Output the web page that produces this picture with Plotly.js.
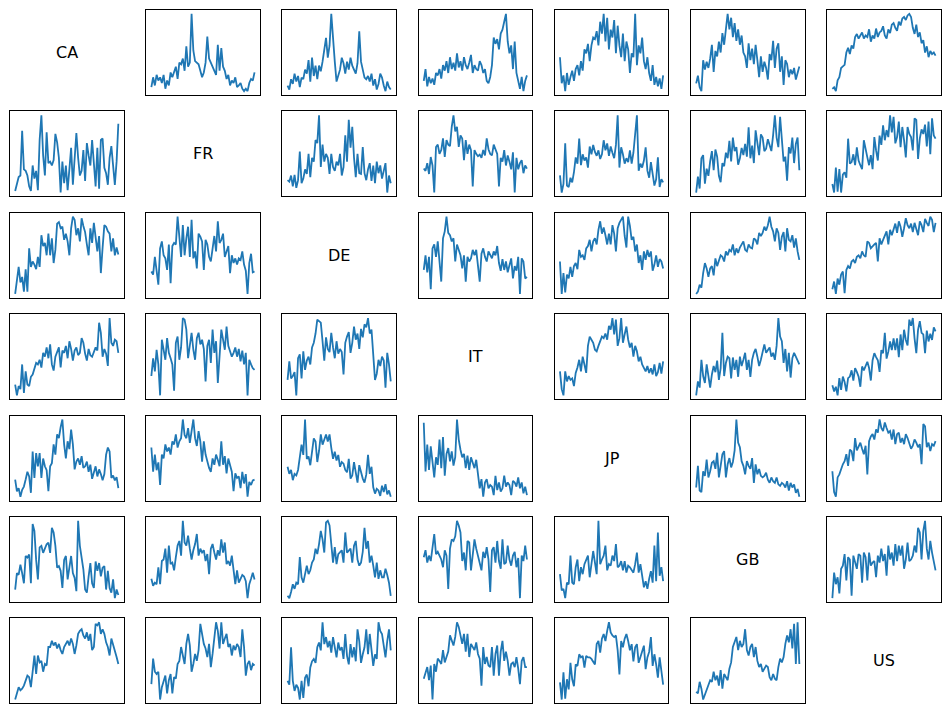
<!DOCTYPE html>
<html>
<head>
<meta charset="utf-8">
<script src="https://cdn.plot.ly/plotly-3.0.1.min.js"></script>
<style>html,body{margin:0;padding:0;background:#fff;}#chart{width:950px;height:713px;}</style>
</head>
<body>
<div id="chart"></div>
<script>
const countries = ['CA','FR','DE','IT','JP','GB','US'];

// row 1: CA
const CA_FR = [10,22,12,25,18,22,15,25,8,18,12,28,22,30,35,20,40,38,45,30,60,35,40,100,55,42,40,38,30,22,28,40,72,45,40,35,30,25,62,30,58,35,30,20,25,12,18,15,22,10,12,15,8,5,8,5,15,20,18,28];
const CA_DE = [10,5,18,12,25,15,22,8,20,18,30,25,42,15,45,22,35,18,35,28,40,55,70,45,60,100,65,40,15,22,30,45,38,25,40,30,45,35,30,25,38,78,40,30,20,18,22,15,25,10,18,5,12,25,20,10,3,15,8,5];
const CA_IT = [15,30,8,20,12,18,10,25,22,30,18,35,28,40,25,45,30,38,28,50,32,40,28,45,35,30,38,48,25,35,30,28,40,35,25,30,15,12,20,35,70,62,68,55,75,80,90,100,65,50,60,30,65,25,15,5,20,2,15,22];
const CA_JP = [45,12,22,2,25,10,20,28,15,30,35,22,40,28,55,50,62,40,60,70,68,78,60,90,75,100,65,95,55,80,70,92,50,85,60,45,75,40,65,55,25,50,45,100,35,60,50,70,40,30,45,25,15,35,10,20,8,18,5,22];
const CA_GB = [10,20,5,0,40,28,38,30,42,60,25,52,45,64,50,75,60,85,100,80,95,70,88,65,80,60,72,50,45,30,62,40,55,35,60,40,18,45,25,38,30,15,48,40,65,30,55,62,25,45,8,40,35,18,28,22,30,15,25,32];
const CA_US = [3,5,0,14,18,30,32,34,50,56,48,59,55,70,74,68,72,76,68,72,70,80,64,72,68,81,70,76,78,84,72,68,80,75,86,88,82,78,90,85,94,96,92,98,100,96,82,74,86,70,76,62,66,50,58,44,52,48,50,46];

// row 2: FR
const FR_CA = [2,12,20,22,80,30,28,22,8,2,35,18,28,3,68,100,48,22,78,38,40,35,42,76,65,45,0,40,12,35,3,30,58,10,40,77,45,22,28,55,15,64,48,35,68,38,8,58,5,68,70,32,25,10,45,60,30,10,40,89];
const FR_DE = [16,14,22,8,23,6,16,53,12,18,30,24,50,20,45,40,68,64,100,33,62,40,50,45,24,50,33,28,40,35,50,22,33,74,40,94,58,85,45,20,50,25,24,59,25,16,30,38,15,35,12,40,25,35,18,30,38,0,22,12];
const FR_IT = [31,28,38,24,46,35,0,59,62,50,55,70,46,68,62,60,85,100,79,85,59,74,70,42,68,50,62,55,8,55,50,47,49,45,55,48,70,56,50,48,62,55,50,8,45,40,55,35,48,40,30,52,0,45,30,38,42,25,35,31];
const FR_JP = [23,1,12,64,10,8,20,14,27,46,38,70,36,50,42,46,33,60,50,62,53,48,55,44,50,68,55,64,48,60,52,45,62,100,33,59,50,38,45,40,55,38,52,79,100,29,38,33,42,59,29,20,40,25,10,18,46,8,18,14];
const FR_GB = [3,23,8,46,50,14,33,24,42,55,31,57,48,24,16,40,36,53,46,68,42,72,55,60,38,46,59,50,64,48,85,46,62,40,81,68,50,76,72,55,58,70,62,55,75,100,72,60,98,64,42,48,18,60,52,72,40,64,72,31];
const FR_US = [12,1,33,2,31,1,24,27,20,70,38,40,50,36,59,42,36,31,68,55,46,36,49,31,72,55,42,74,62,87,68,81,72,100,78,98,64,72,92,59,85,68,46,85,76,72,55,96,94,44,70,82,76,88,60,92,50,96,74,70];

// row 3: DE
const DE_CA = [0,20,35,15,22,3,32,3,59,35,42,38,32,48,35,76,62,66,50,78,50,72,40,57,91,93,85,87,70,78,68,50,85,100,96,76,85,68,98,88,80,64,50,85,66,92,70,55,75,27,60,89,87,81,78,55,72,50,60,51];
const DE_FR = [29,25,48,31,12,59,68,50,46,31,64,14,62,66,64,100,76,48,89,50,72,87,48,96,46,55,33,78,74,68,31,70,64,48,42,60,75,55,94,66,70,78,48,55,62,27,50,40,46,38,46,44,55,38,30,0,40,52,28,29];
const DE_IT = [31,50,28,48,6,59,64,48,68,46,16,72,81,100,79,76,68,72,42,64,55,50,33,50,16,48,42,46,57,50,57,40,16,52,59,48,42,55,50,46,55,50,62,40,30,45,31,42,28,38,46,20,36,30,48,0,46,42,20,22];
const DE_JP = [42,0,27,2,25,20,35,22,36,40,32,57,48,50,44,59,62,70,55,68,72,64,83,94,78,86,76,64,78,64,89,78,55,85,92,96,100,75,60,100,88,70,74,55,64,40,50,31,55,44,57,48,55,30,38,50,35,45,42,33];
const DE_GB = [0,3,12,8,27,40,33,22,33,36,24,46,36,42,50,48,42,55,50,57,55,64,50,59,53,60,64,68,57,55,64,60,59,72,70,64,79,75,79,87,82,89,100,87,81,68,85,79,57,74,80,55,85,70,68,76,60,72,55,44];
const DE_US = [6,16,0,20,12,25,29,1,31,36,33,42,44,40,48,50,46,55,50,48,68,66,59,62,64,66,42,72,64,70,76,81,64,83,76,85,91,79,94,87,74,85,98,89,85,91,80,92,85,76,94,89,80,97,92,88,100,96,80,92];

// row 4: IT
const IT_CA = [14,0,12,8,40,3,31,14,12,24,27,36,42,40,46,36,55,50,62,48,66,40,32,50,57,62,36,58,55,64,48,70,60,45,58,62,52,55,74,68,54,45,60,52,50,56,62,58,94,81,50,60,54,38,100,68,64,72,70,55];
const IT_FR = [25,48,31,59,40,0,72,59,46,74,55,48,40,6,68,76,46,62,100,98,85,48,64,81,59,46,74,81,66,72,60,18,64,72,42,85,55,70,16,57,85,72,59,89,64,57,50,55,62,50,60,44,58,40,55,0,46,40,35,33];
const IT_DE = [20,44,22,25,30,0,48,53,22,57,33,45,50,40,62,68,80,98,96,94,70,45,75,60,56,81,62,48,70,54,60,56,27,68,76,82,55,68,89,72,80,60,86,75,92,88,100,80,85,58,20,28,46,38,50,45,10,55,40,18];
const IT_JP = [31,8,0,31,18,25,20,22,12,29,36,46,31,50,40,29,64,76,72,68,59,57,64,70,76,74,80,72,90,85,100,79,98,64,74,100,68,79,89,72,62,68,50,64,57,44,50,40,35,31,38,29,35,27,40,25,30,42,28,44];
const IT_GB = [0,18,10,46,25,16,40,22,10,27,38,30,45,20,35,81,25,42,50,48,22,49,33,46,24,50,38,46,55,33,46,24,46,55,60,50,38,46,58,66,55,59,62,50,55,46,64,100,76,70,42,60,31,55,23,48,55,50,45,40];
const IT_US = [14,6,12,1,23,8,25,18,6,23,25,33,20,36,31,25,12,38,33,40,44,36,20,46,55,50,46,31,59,55,81,48,57,70,59,74,59,74,50,79,59,85,72,65,98,90,100,74,55,85,96,81,79,55,84,70,80,72,88,83];

// row 5: JP
const JP_CA = [23,8,12,1,10,14,23,33,27,6,59,25,57,40,57,25,50,40,35,8,40,44,68,55,81,76,90,100,68,50,72,62,87,68,36,46,50,42,53,38,40,46,33,42,24,33,40,27,36,30,22,30,55,64,59,25,28,22,26,12];
const JP_FR = [64,33,55,35,45,16,55,50,68,59,64,55,72,68,81,64,72,76,100,80,76,89,70,85,100,76,66,85,72,46,72,55,46,38,33,50,42,55,48,40,72,42,53,31,50,40,33,8,31,25,27,12,33,18,30,1,20,16,22,23];
const JP_DE = [40,31,36,23,31,29,36,55,68,55,100,50,53,42,62,76,72,46,60,81,68,76,81,72,81,64,50,59,48,55,40,46,44,36,33,50,25,29,46,33,20,42,33,25,20,30,55,31,40,14,6,12,10,3,16,8,18,5,10,2];
const JP_IT = [96,38,70,40,68,50,31,55,46,76,42,79,33,59,66,50,62,45,55,100,76,64,55,59,42,57,40,55,48,42,52,31,18,29,8,25,29,18,22,20,10,33,16,25,14,18,33,20,25,22,10,27,25,20,31,18,25,12,20,10];
const JP_GB = [12,40,8,6,33,27,48,25,33,44,46,36,57,25,40,55,59,25,42,50,38,45,60,100,70,64,46,40,29,46,40,36,50,18,42,29,36,27,25,27,31,22,18,25,20,18,25,16,14,18,16,12,20,8,18,12,16,5,10,0];
const JP_US = [33,6,0,25,29,36,42,46,55,40,61,59,46,76,60,65,70,62,55,66,29,72,78,81,74,87,83,100,89,85,96,89,83,85,74,87,68,81,83,70,76,68,81,76,68,62,66,74,70,64,68,42,94,91,64,70,59,68,66,72];

// row 6: GB
const GB_CA = [12,33,31,44,33,20,55,53,57,20,96,87,50,25,66,68,59,64,70,72,59,91,85,68,40,42,36,14,50,55,25,40,55,33,27,10,100,68,50,38,12,8,29,46,20,14,48,36,46,29,40,42,12,36,14,8,25,1,12,5];
const GB_FR = [25,16,20,18,40,18,48,50,64,33,68,44,46,36,53,68,74,55,100,72,68,81,64,50,62,70,83,55,64,59,62,48,57,31,64,70,59,50,62,55,76,59,72,44,48,42,55,33,18,36,20,25,30,28,22,0,18,25,33,24];
const GB_DE = [3,0,8,18,12,20,18,53,27,20,31,42,31,36,46,50,64,57,70,87,76,59,98,100,94,64,46,66,44,57,59,62,46,85,59,62,64,46,68,74,50,42,46,60,91,64,74,46,55,42,27,46,25,36,27,27,38,30,20,3];
const GB_IT = [53,62,46,55,48,70,83,57,60,55,50,40,62,55,12,64,76,74,80,100,94,85,48,59,36,74,72,36,59,76,64,55,48,36,60,52,66,50,8,62,66,46,74,48,38,76,44,46,68,50,42,55,60,40,52,0,55,48,68,50];
const GB_JP = [31,10,12,0,20,18,55,20,18,40,50,22,40,31,44,50,55,27,46,61,46,31,100,44,50,55,68,36,44,42,55,48,70,40,42,48,36,48,33,42,40,36,33,44,59,33,44,29,14,22,12,25,35,20,68,22,85,29,40,22];
const GB_US = [0,33,18,27,6,38,42,57,23,53,50,3,55,48,38,57,55,20,59,53,23,59,42,46,48,27,55,46,64,48,57,29,68,50,59,42,70,48,68,55,68,38,50,72,48,50,55,68,59,91,85,50,87,100,64,50,74,59,48,36];

// row 7: US
const US_CA = [0,8,16,12,14,18,25,31,29,16,36,57,33,57,48,50,36,46,44,68,68,76,70,74,66,72,64,59,68,72,76,70,79,72,59,70,85,89,91,83,79,87,76,85,64,68,98,96,100,85,91,85,74,68,57,79,72,64,55,46];
const US_FR = [20,53,36,33,36,0,16,25,31,8,25,33,8,29,27,46,50,68,55,46,72,85,70,36,46,59,50,64,98,85,72,66,55,72,42,59,76,100,89,66,100,72,79,85,68,72,57,70,64,72,68,55,91,68,31,46,50,38,46,44];
const US_DE = [25,20,68,25,12,20,16,1,25,3,29,33,18,42,50,53,48,68,74,64,100,72,81,68,76,61,81,70,55,74,64,68,53,85,57,46,72,55,68,50,91,76,48,59,68,91,59,85,68,44,59,53,100,89,85,72,55,76,91,64];
const US_IT = [27,36,42,25,44,0,46,36,53,50,46,64,48,55,62,83,76,70,81,100,94,83,72,85,62,85,55,72,68,64,74,59,53,18,68,46,55,44,42,68,31,59,70,31,62,76,50,62,50,31,46,48,42,55,40,20,50,55,42,42];
const US_JP = [23,1,36,2,27,14,48,27,18,46,44,59,55,57,42,57,55,55,53,50,46,72,76,61,79,85,76,89,100,87,83,81,83,64,33,76,68,79,85,76,64,72,50,68,72,48,55,64,70,40,55,62,81,44,59,46,29,55,40,20];
const US_GB = [10,8,23,14,0,6,14,18,25,23,36,25,31,18,38,14,33,29,25,40,48,68,74,81,64,76,68,72,91,64,57,68,72,55,68,50,42,46,36,40,44,42,29,25,33,27,25,42,53,48,55,72,83,74,91,66,98,46,100,46];

const pairs = {
  CA:{FR:CA_FR,DE:CA_DE,IT:CA_IT,JP:CA_JP,GB:CA_GB,US:CA_US},
  FR:{CA:FR_CA,DE:FR_DE,IT:FR_IT,JP:FR_JP,GB:FR_GB,US:FR_US},
  DE:{CA:DE_CA,FR:DE_FR,IT:DE_IT,JP:DE_JP,GB:DE_GB,US:DE_US},
  IT:{CA:IT_CA,FR:IT_FR,DE:IT_DE,JP:IT_JP,GB:IT_GB,US:IT_US},
  JP:{CA:JP_CA,FR:JP_FR,DE:JP_DE,IT:JP_IT,GB:JP_GB,US:JP_US},
  GB:{CA:GB_CA,FR:GB_FR,DE:GB_DE,IT:GB_IT,JP:GB_JP,US:GB_US},
  US:{CA:US_CA,FR:US_FR,DE:US_DE,IT:US_IT,JP:US_JP,GB:US_GB}
};

const W = 950, H = 713;
const colLeft = [10,146.2,282.4,418.6,554.8,691,827.2];
const cellW = 113.5;
const rowTop = [10,111.4,212.8,314.2,415.6,517,618.4];
const cellH = 85;

const traces = [];
const layout = {
  width: W, height: H,
  margin: {l:0,r:0,t:0,b:0},
  paper_bgcolor: '#fff', plot_bgcolor: '#fff',
  showlegend: false,
  font: {family: 'DejaVu Sans', color: '#000'},
  annotations: []
};

let axIdx = 0;
countries.forEach((rc, i) => {
  countries.forEach((cc, j) => {
    const xd = [colLeft[j]/W, (colLeft[j]+cellW)/W];
    const yd = [1-(rowTop[i]+cellH)/H, 1-rowTop[i]/H];
    if (i === j) {
      layout.annotations.push({
        text: rc, xref: 'paper', yref: 'paper',
        x: (xd[0]+xd[1])/2, y: (yd[0]+yd[1])/2,
        xanchor: 'center', yanchor: 'middle', showarrow: false,
        font: {size: 16, family: 'DejaVu Sans', color: '#000'}
      });
      return;
    }
    axIdx++;
    const s = axIdx === 1 ? '' : String(axIdx);
    const ys = pairs[rc][cc];
    const n = ys.length;
    const xs = ys.map((_, k) => k);
    const mn = Math.min(...ys), mx = Math.max(...ys);
    const pad = (mx - mn) * 0.05;
    traces.push({
      x: xs, y: ys, type: 'scatter', mode: 'lines',
      line: {color: '#1f77b4', width: 1.8},
      xaxis: 'x' + s, yaxis: 'y' + s, hoverinfo: 'skip'
    });
    const common = {showgrid:false, zeroline:false, showticklabels:false, ticks:'',
      showline:true, mirror:true, linecolor:'#000', linewidth:1, fixedrange:true};
    layout['xaxis' + s] = Object.assign({}, common, {domain: xd, anchor: 'y' + s,
      range: [-(n-1)*0.05, (n-1)*1.05]});
    layout['yaxis' + s] = Object.assign({}, common, {domain: yd, anchor: 'x' + s,
      range: [mn - pad, mx + pad]});
  });
});

Plotly.newPlot('chart', traces, layout, {staticPlot: true, displayModeBar: false});
</script>
</body>
</html>
